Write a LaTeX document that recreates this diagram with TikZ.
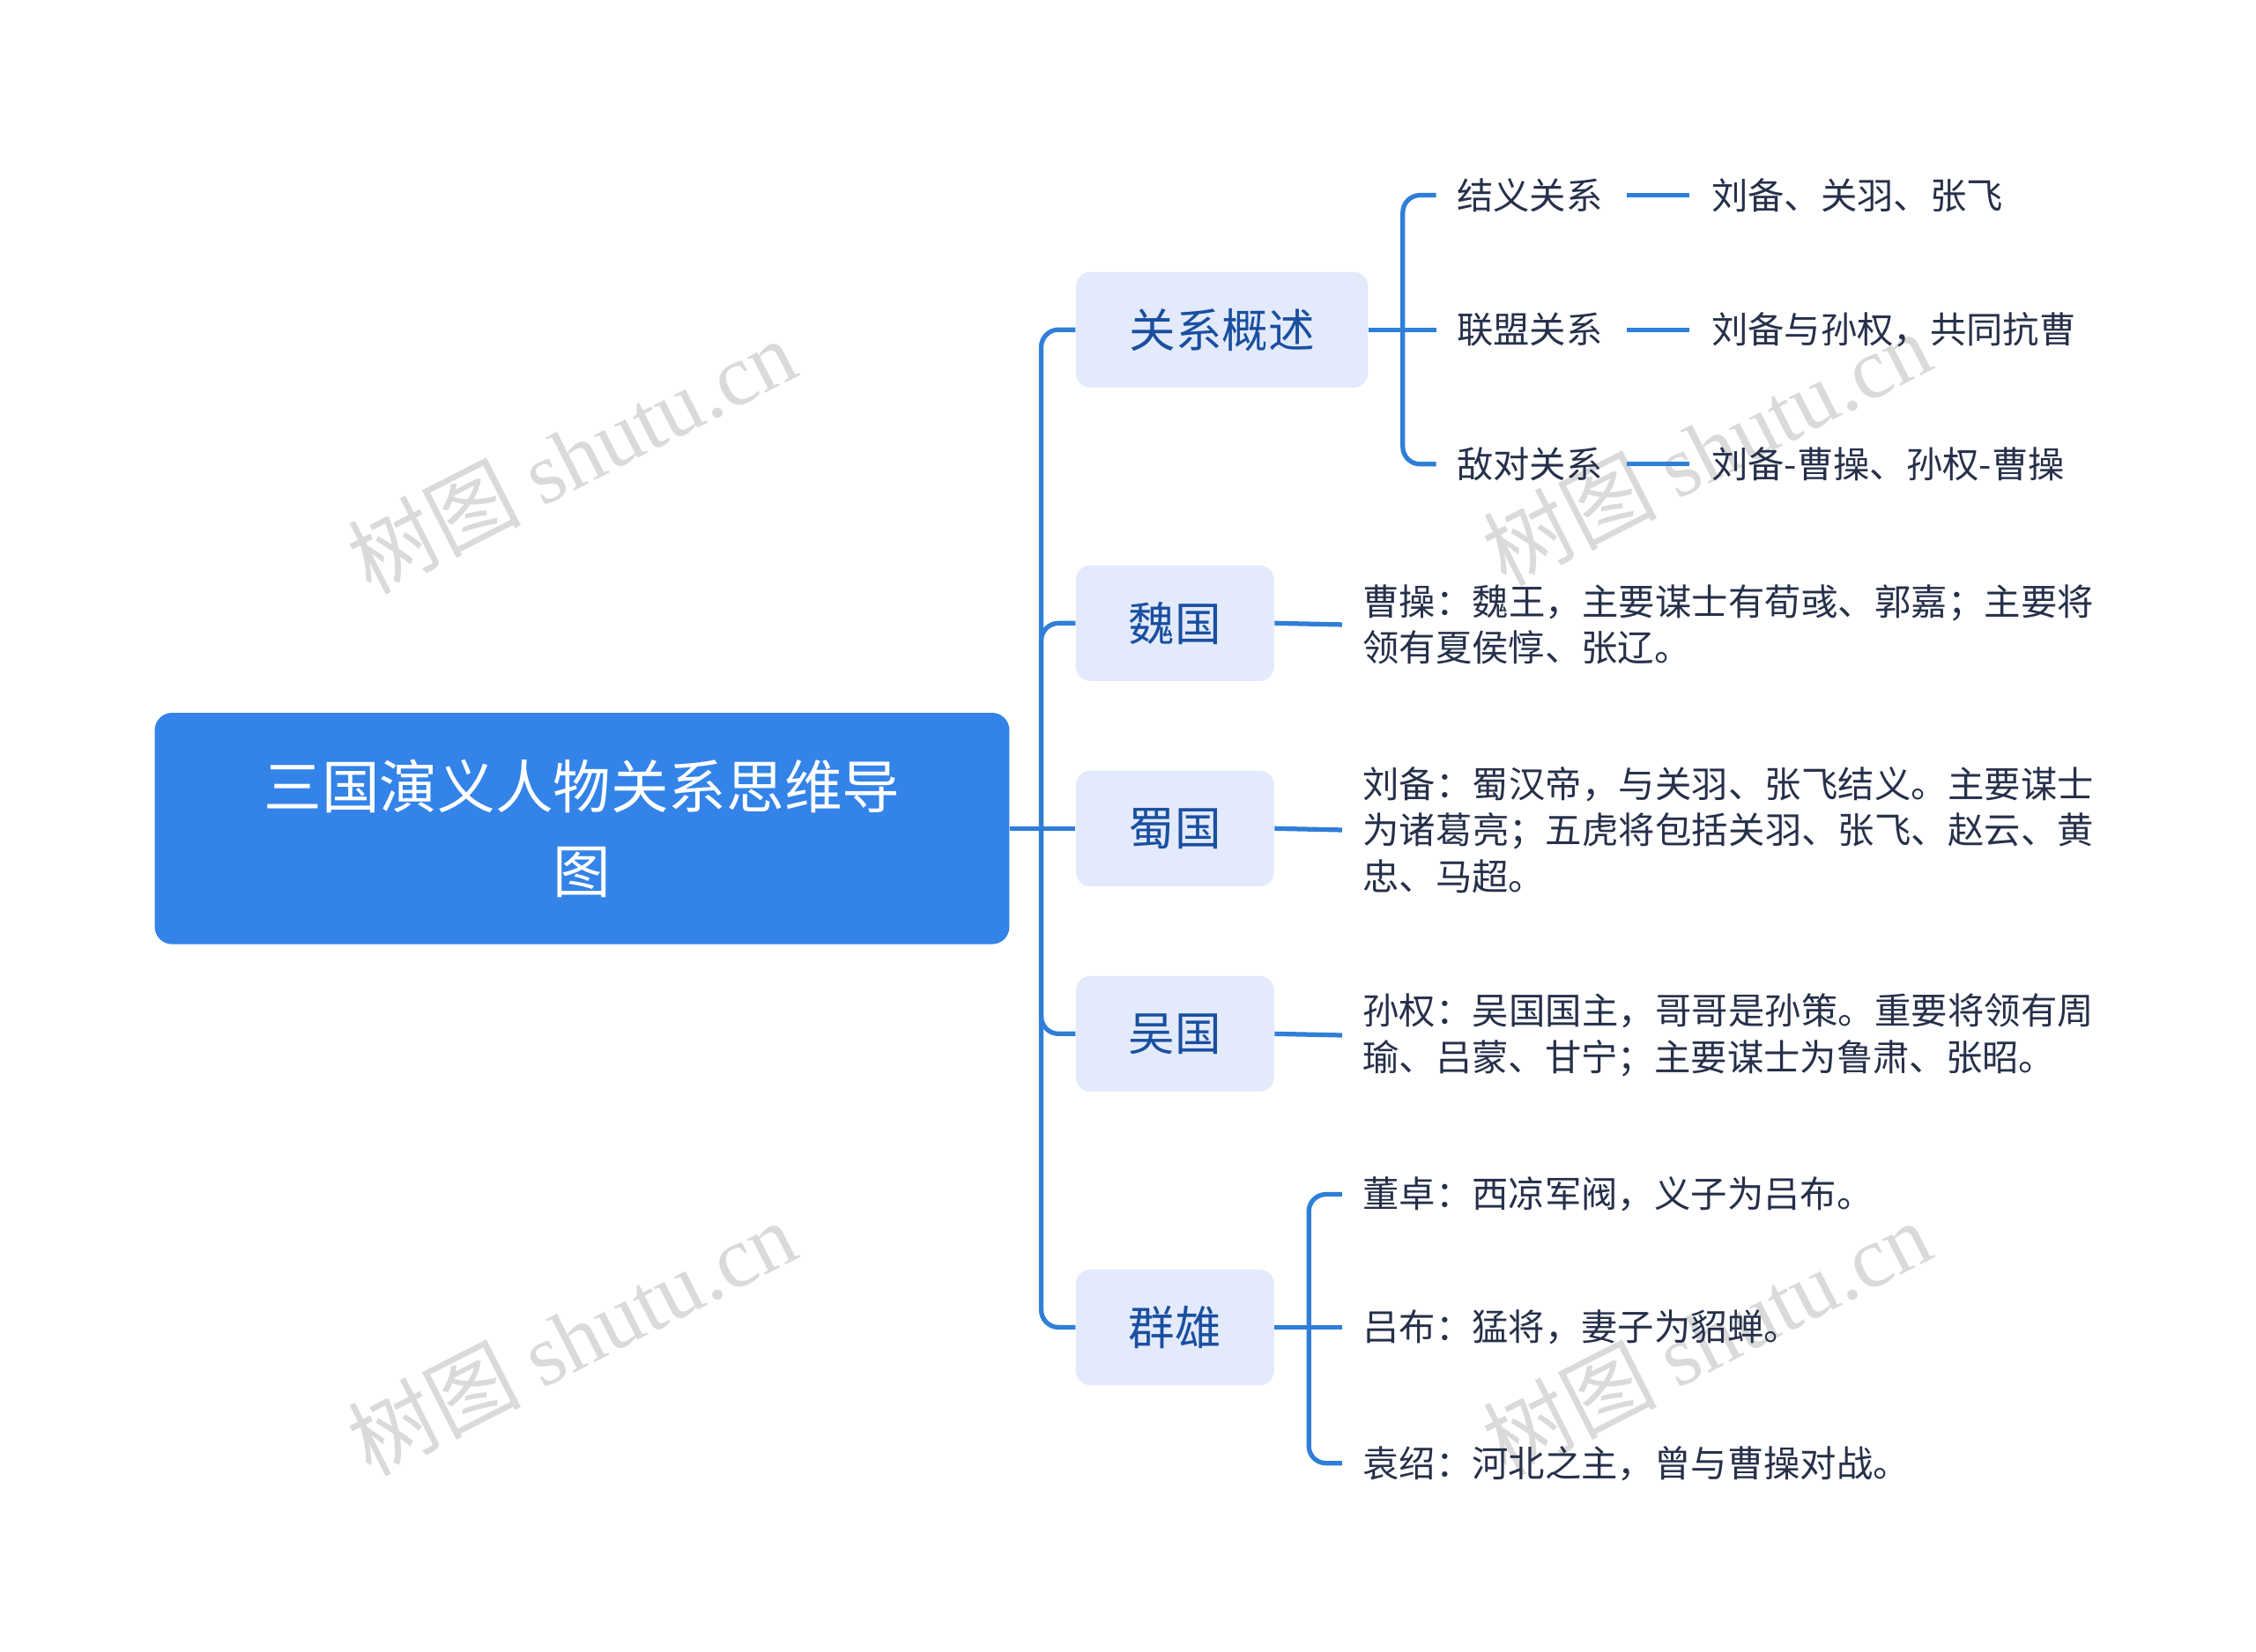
\documentclass[tikz,border=0pt]{standalone}
\usepackage{fontspec}
\setmainfont{Noto Sans CJK SC}
\newfontfamily\wmcjk{Noto Sans CJK SC}
\newfontfamily\wmlat{Liberation Serif}
\XeTeXlinebreaklocale "zh"
\XeTeXlinebreakskip=0pt plus 1pt
\begin{document}
\begin{tikzpicture}[x=0.5pt,y=-0.5pt,
 ln/.style={draw=lnc,line width=1.6pt,rounded corners=6pt},
 br/.style={fill=brf,rounded corners=5pt,text=brt,font=\fontsize{16}{18}\selectfont,minimum height=40pt,inner sep=0pt},
 lf/.style={anchor=west,inner sep=0pt,text=lft,font=\fontsize{12.6}{16}\selectfont,align=left},
 wm/.style={text=wmc,font=\fontsize{30}{30}\selectfont,rotate=27}]
\definecolor{lnc}{HTML}{2F7ED8}
\definecolor{brf}{HTML}{E3EAFB}
\definecolor{brt}{HTML}{1A4FA0}
\definecolor{lft}{HTML}{26304A}
\definecolor{rtf}{HTML}{3383E8}
\definecolor{wmc}{HTML}{DADADA}
\useasboundingbox (0,0) rectangle (1560,1142);
% watermarks
\node[wm] at (395,315) {\wmcjk 树图 \wmlat shutu.cn};
\node[wm] at (395,925) {\wmcjk 树图 \wmlat shutu.cn};
\node[wm] at (1180,310) {\wmcjk 树图 \wmlat shutu.cn};
\node[wm] at (1180,925) {\wmcjk 树图 \wmlat shutu.cn};
% root
\node[fill=rtf,rounded corners=6pt,minimum width=295.5pt,minimum height=80pt,text=white,align=center,font=\fontsize{20}{29}\selectfont,inner sep=0pt] (root) at (402.5,573) {三国演义人物关系思维导\\图};
% branches
\node[br,minimum width=101pt] (gx) at (845,228) {关系概述};
\node[br,minimum width=68.5pt] (wei) at (812.5,431) {魏国};
\node[br,minimum width=68.5pt] (shu) at (812.5,573) {蜀国};
\node[br,minimum width=68.5pt] (wu) at (812.5,715) {吴国};
\node[br,minimum width=68.5pt] (qx) at (812.5,918) {群雄};
\coordinate (tr) at (720,573);
\draw[ln] (root.east) -- (tr);
\draw[ln] (tr) |- (gx.west);
\draw[ln] (tr) |- (wei.west);
\draw[ln] (tr) -- (shu.west);
\draw[ln] (tr) |- (wu.west);
\draw[ln] (tr) |- (qx.west);
% relations
\node[lf] (r1) at (1007,135) {结义关系};
\node[lf] (r2) at (1007,228) {联盟关系};
\node[lf] (r3) at (1007,321) {敌对关系};
\coordinate (b1) at (970,228);
\draw[ln] (gx.east) -- (b1);
\draw[ln] (b1) |- ([xshift=-7pt]r1.west);
\draw[ln] (b1) -- ([xshift=-7pt]r2.west);
\draw[ln] (b1) |- ([xshift=-7pt]r3.west);
\node[lf] (d1) at (1183,135) {刘备、关羽、张飞};
\node[lf] (d2) at (1183,228) {刘备与孙权，共同抗曹};
\node[lf] (d3) at (1183,321) {刘备-曹操、孙权-曹操};
\draw[ln] ([xshift=8pt]r1.east) -- ([xshift=-7.5pt]d1.west);
\draw[ln] ([xshift=8pt]r2.east) -- ([xshift=-7.5pt]d2.west);
\draw[ln] ([xshift=8pt]r3.east) -- ([xshift=-7.5pt]d3.west);
% leaves
\node[lf,text width=254pt] (lw) at (942,432) {曹操：魏王，主要谋士有荀彧、郭嘉；主要将领有夏侯惇、张辽。};
\node[lf,text width=254pt] (ls) at (942,574) {刘备：蜀汉帝，与关羽、张飞结义。主要谋士为诸葛亮；五虎将包括关羽、张飞、赵云、黄忠、马超。};
\node[lf,text width=254pt] (lwu) at (942,716) {孙权：吴国国主，哥哥是孙策。重要将领有周瑜、吕蒙、甘宁；主要谋士为鲁肃、张昭。};
\draw[ln] (wei.east) -- ([xshift=-7pt]lw.west);
\draw[ln] (shu.east) -- ([xshift=-7pt]ls.west);
\draw[ln] (wu.east) -- ([xshift=-7pt]lwu.west);
\node[lf] (q1) at (942,826) {董卓：西凉军阀，义子为吕布。};
\node[lf] (q2) at (942,918) {吕布：猛将，妻子为貂蝉。};
\node[lf] (q3) at (942,1012) {袁绍：河北之主，曾与曹操对战。};
\coordinate (b2) at (905,918);
\draw[ln] (qx.east) -- (b2);
\draw[ln] (b2) |- ([xshift=-7pt]q1.west);
\draw[ln] (b2) -- ([xshift=-7pt]q2.west);
\draw[ln] (b2) |- ([xshift=-7pt]q3.west);
\end{tikzpicture}
\end{document}
